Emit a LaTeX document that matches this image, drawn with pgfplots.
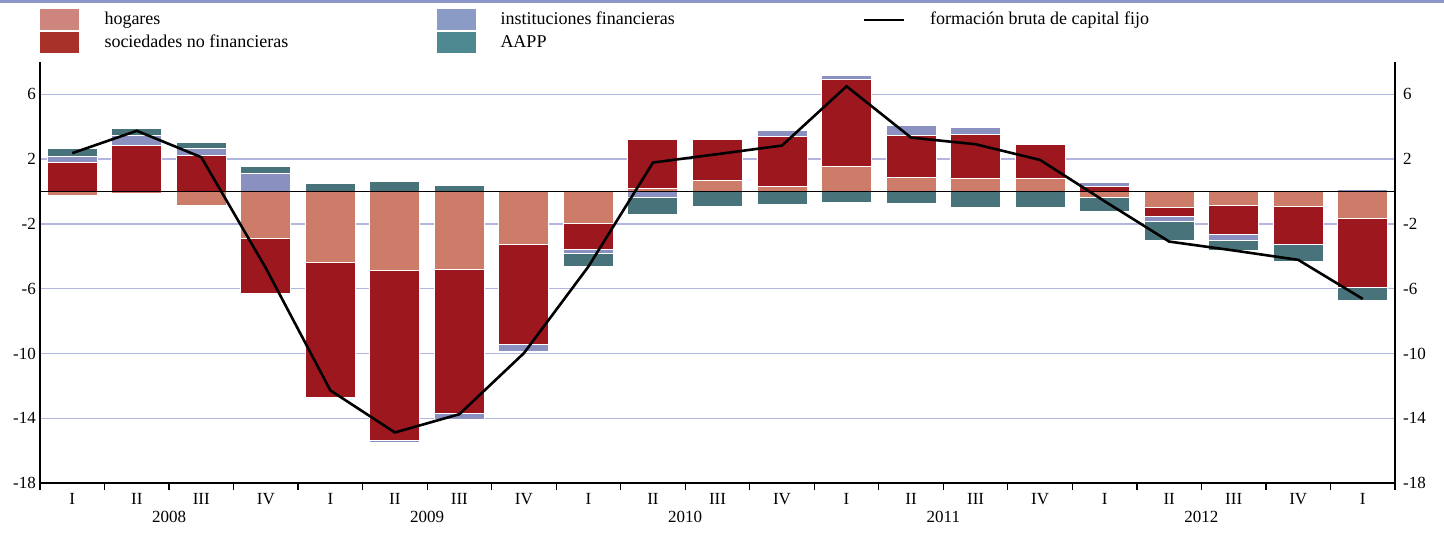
\documentclass[border=0pt]{standalone}
\usepackage{fontspec}
\setmainfont{Liberation Serif}
\usepackage{pgfplots}
\pgfplotsset{compat=1.18}
\usepackage{pgfplotstable}

\definecolor{hog}{RGB}{206,124,106}
\definecolor{soc}{RGB}{157,24,30}
\definecolor{ins}{RGB}{138,144,192}
\definecolor{aap}{RGB}{72,115,122}
\definecolor{hogL}{RGB}{205,133,126}
\definecolor{socL}{RGB}{168,49,42}
\definecolor{insL}{RGB}{138,155,198}
\definecolor{aapL}{RGB}{78,137,146}
\definecolor{gridc}{RGB}{178,182,222}
\definecolor{topc}{RGB}{140,150,200}

\pgfplotstableread{
x hogP socP insP aapP hogN socN insN aapN fbcf
0  0    1.79 0.35 0.53 -0.25 0      0     0     2.37
1  0    2.84 0.60 0.45 -0.14 0      0     0     3.75
2  0    2.20 0.45 0.37 -0.85 0      0     0     2.12
3  0    0    1.11 0.45 -2.90 -3.42  0     0    -4.73
4  0    0    0    0.49 -4.38 -8.32  0     0   -12.28
5  0    0    0    0.62 -4.88 -10.49 -0.15 0   -14.88
6  0    0    0    0.39 -4.79 -8.94  -0.37 0   -13.75
7  0    0    0    0    -3.29 -6.16  -0.45 0    -9.98
8  0    0    0    0    -1.98 -1.60  -0.25 -0.80 -4.63
9  0.20 3.02 0    0     0     0     -0.37 -1.05  1.79
10 0.68 2.51 0    0     0     0      0    -0.90  2.31
11 0.33 3.07 0.35 0     0     0      0    -0.82  2.84
12 1.52 5.41 0.25 0     0     0      0    -0.68  6.50
13 0.88 2.57 0.60 0     0     0      0    -0.72  3.33
14 0.80 2.72 0.41 0     0     0      0    -1.01  2.92
15 0.80 2.12 0    0     0     0      0    -0.97  1.95
16 0    0.29 0.25 0    -0.37  0      0    -0.86 -0.60
17 0    0    0    0    -1.01 -0.53  -0.31 -1.20 -3.09
18 0    0    0    0    -0.84 -1.79  -0.37 -0.64 -3.64
19 0    0    0.05 0    -0.90 -2.37   0    -1.05 -4.22
20 0    0    0.12 0    -1.67 -4.28   0    -0.80 -6.63
}\data

\pgfplotsset{
  base/.style={
    scale only axis, width=677.5pt, height=210.5pt,
    xmin=-0.5, xmax=20.5, ymin=-18, ymax=8,
    ytick={-18,-14,...,6},
    /pgf/number format/assume math mode=true,
    tick label style={font=\fontsize{8.5}{10}\selectfont},
    axis line style={black, line width=0.9pt},
    clip=false,
  },
  barst/.style={ybar stacked, bar width=0.775, draw=white, line width=0.5pt},
}

\begin{document}
\begin{tikzpicture}
% axis 1: grid, positive bars, left axis, quarter labels, legend
\begin{axis}[base, barst, name=ax,
  axis x line*=bottom, axis y line*=left,
  ymajorgrids, grid style={gridc, line width=0.7pt},
  xtick={0,...,20},
  xticklabels={I,II,III,IV,I,II,III,IV,I,II,III,IV,I,II,III,IV,I,II,III,IV,I},
  xtick style={draw=none},
  xticklabel style={font=\fontsize{8.5}{10}\selectfont, yshift=-1.5pt},
  yticklabel style={xshift=1.5pt},
  ytick style={draw=none},
  legend columns=3,
  legend style={at={(rel axis cs:0,1)}, anchor=south west, yshift=4pt,
    draw=none, fill=none, inner sep=0pt, row sep=1pt, column sep=12.5pt,
    font=\fontsize{9}{10.5}\selectfont, nodes={inner sep=0pt}},
  legend cell align=left,
]
\addlegendimage{legend image code/.code={\fill[hogL] (0pt,-5pt) rectangle (19pt,5pt);}}
\addlegendentry{\makebox[153.5pt][l]{hogares}}
\addlegendimage{legend image code/.code={\fill[insL] (0pt,-5pt) rectangle (19pt,5pt);}}
\addlegendentry{\makebox[168.5pt][l]{instituciones financieras}}
\addlegendimage{legend image code/.code={\draw[black, line width=1.3pt] (0pt,0pt) -- (20pt,0pt);}}
\addlegendentry{formación bruta de capital fijo}
\addlegendimage{legend image code/.code={\fill[socL] (0pt,-5pt) rectangle (19pt,5pt);}}
\addlegendentry{\makebox[153.5pt][l]{sociedades no financieras}}
\addlegendimage{legend image code/.code={\fill[aapL] (0pt,-5pt) rectangle (19pt,5pt);}}
\addlegendentry{\makebox[168.5pt][l]{AAPP}}

\addplot[barst, fill=hog, forget plot] table[x=x, y=hogP] {\data};
\addplot[barst, fill=soc, forget plot] table[x=x, y=socP] {\data};
\addplot[barst, fill=ins, forget plot] table[x=x, y=insP] {\data};
\addplot[barst, fill=aap, forget plot] table[x=x, y=aapP] {\data};

\node[font=\fontsize{8.5}{10}\selectfont] at (axis cs:1.5,-18) [yshift=-17pt] {2008};
\node[font=\fontsize{8.5}{10}\selectfont] at (axis cs:5.5,-18) [yshift=-17pt] {2009};
\node[font=\fontsize{8.5}{10}\selectfont] at (axis cs:9.5,-18) [yshift=-17pt] {2010};
\node[font=\fontsize{8.5}{10}\selectfont] at (axis cs:13.5,-18) [yshift=-17pt] {2011};
\node[font=\fontsize{8.5}{10}\selectfont] at (axis cs:17.5,-18) [yshift=-17pt] {2012};
\end{axis}

% axis 2: negative bars, right axis, boundary tick marks
\begin{axis}[base, barst,
  axis x line*=bottom, axis y line*=right,
  xtick={-0.5,0.5,...,20.5}, xticklabels={},
  xtick style={black, line width=0.6pt},
  tick align=outside, major tick length=3.5pt,
  ytick style={draw=none},
  yticklabel style={xshift=-3pt},
]
\addplot[barst, fill=hog] table[x=x, y=hogN] {\data};
\addplot[barst, fill=soc] table[x=x, y=socN] {\data};
\addplot[barst, fill=ins] table[x=x, y=insN] {\data};
\addplot[barst, fill=aap] table[x=x, y=aapN] {\data};
\end{axis}

% axis 3: zero line and investment line
\begin{axis}[base, hide axis]
\draw[black, line width=0.9pt] (axis cs:-0.5,0) -- (axis cs:20.5,0);
\addplot[black, line width=1.3pt, mark=none, line join=miter] table[x=x, y=fbcf] {\data};
\end{axis}

\fill[topc] ([shift={(-20pt,31pt)}]ax.north west) rectangle ([shift={(24.5pt,29.5pt)}]ax.north east);
\pgfresetboundingbox
\path ([shift={(-20pt,-25pt)}]ax.south west) rectangle ([shift={(24.5pt,31pt)}]ax.north east);
\end{tikzpicture}
\end{document}
